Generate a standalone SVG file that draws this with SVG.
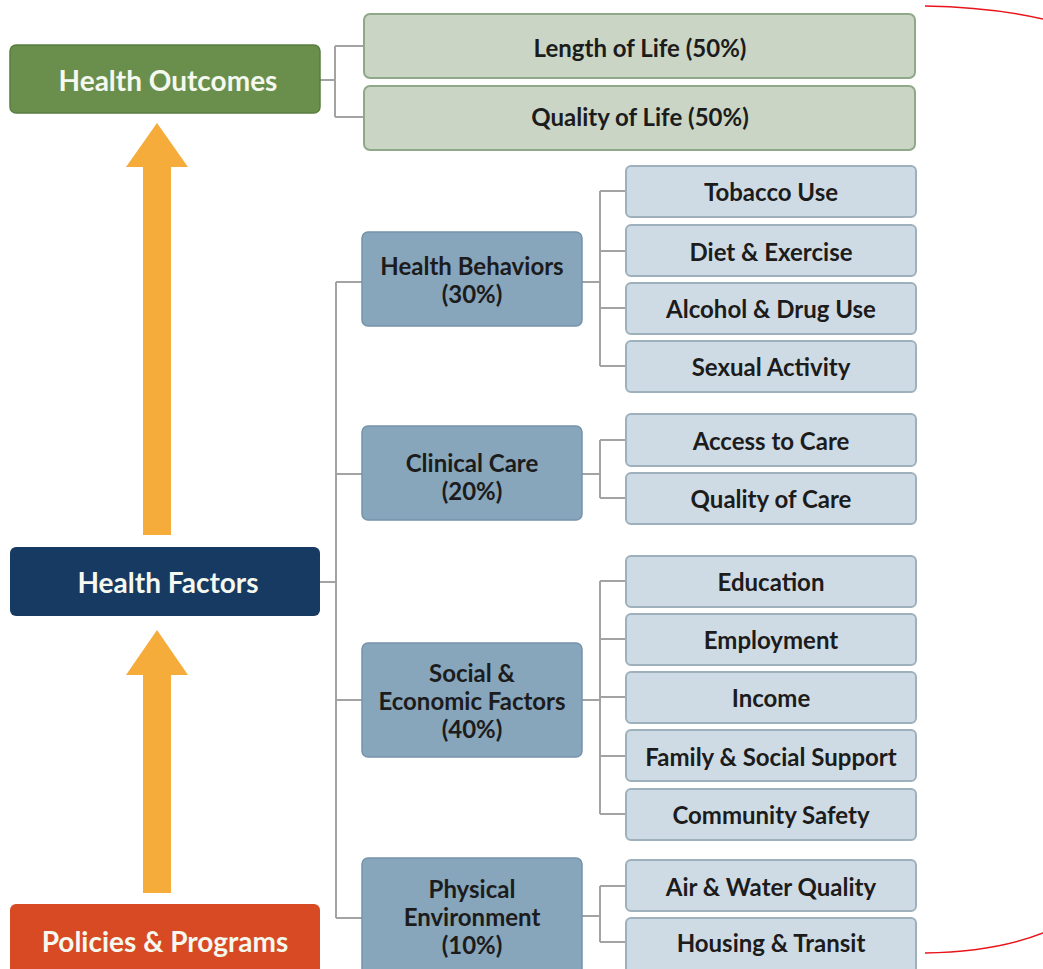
<svg xmlns="http://www.w3.org/2000/svg" width="1043" height="969" viewBox="0 0 1043 969">
<style>
text{font-family:Lato,"Noto Sans","Liberation Sans",sans-serif;font-weight:700;text-anchor:middle;dominant-baseline:central}
.main{font-size:28px;fill:#f4f8ee}
.outc{fill:#cad5c5;stroke:#8fa88a;stroke-width:2}
.cat{fill:#87a5bb;stroke:#7593aa;stroke-width:1.5}
.sub{fill:#cfdbe4;stroke:#9fb0bd;stroke-width:2}
.t21{font-size:24px;fill:#1c1c1c}
.t22{font-size:24px;fill:#1c1c1c}
.conn{fill:none;stroke:#a3a3a3;stroke-width:2}
.arrow{fill:#f5ac3a}
.red{fill:none;stroke:#e8141a;stroke-width:1.5}
</style>
<rect width="1043" height="969" fill="#ffffff"/>
<g id="connectors">
<path class="conn" d="M320,80 H335 M335,46 V117 M335,46 H364 M335,117 H364"/>
<path class="conn" d="M320,582 H336 M336,282 V918 M336,282 H362 M336,474 H362 M336,700 H362 M336,918 H362"/>
<path class="conn" d="M582,282 H600 M600,191 V366 M600,191 H626 M600,251 H626 M600,308 H626 M600,366 H626"/>
<path class="conn" d="M582,474 H600 M600,440 V498 M600,440 H626 M600,498 H626"/>
<path class="conn" d="M582,700 H600 M600,581 V814 M600,581 H626 M600,639 H626 M600,697 H626 M600,756 H626 M600,814 H626"/>
<path class="conn" d="M582,916 H600 M600,886 V942 M600,886 H626 M600,942 H626"/>
</g>
<g id="arrows">
<polygon class="arrow" points="157,123 188,167 171,167 171,535 143,535 143,167 126,167"/>
<polygon class="arrow" points="157,630 188,675 171,675 171,893 143,893 143,675 126,675"/>
</g>
<g id="health-outcomes"><rect x="10" y="45" width="310" height="68" rx="6" fill="#6a8f4c" stroke="#5a7d40" stroke-width="1.5"/><text class="main" x="168" y="80">Health Outcomes</text></g>
<g id="health-factors"><rect x="10" y="547" width="310" height="69" rx="6" fill="#173a63"/><text class="main" x="168" y="582">Health Factors</text></g>
<g id="policies-programs"><rect x="10" y="904" width="310" height="75" rx="6" fill="#d84a23"/><text class="main" x="165" y="941">Policies &amp; Programs</text></g>
<g id="length-of-life"><rect class="outc" x="364" y="14" width="551" height="64" rx="6"/><text class="t21" x="640" y="47">Length of Life (50%)</text></g>
<g id="quality-of-life"><rect class="outc" x="364" y="86" width="551" height="64" rx="6"/><text class="t21" x="640" y="116">Quality of Life (50%)</text></g>
<g id="health-behaviors"><rect class="cat" x="362" y="232" width="220" height="94" rx="6"/><text class="t21" x="472" y="265">Health Behaviors</text><text class="t21" x="472" y="293">(30%)</text></g>
<g id="clinical-care"><rect class="cat" x="362" y="426" width="220" height="94" rx="6"/><text class="t21" x="472" y="462">Clinical Care</text><text class="t21" x="472" y="490">(20%)</text></g>
<g id="social-economic"><rect class="cat" x="362" y="643" width="220" height="114" rx="6"/><text class="t21" x="472" y="672">Social &amp;</text><text class="t21" x="472" y="700">Economic Factors</text><text class="t21" x="472" y="728">(40%)</text></g>
<g id="physical-environment"><rect class="cat" x="362" y="858" width="220" height="121" rx="6"/><text class="t21" x="472" y="888">Physical</text><text class="t21" x="472" y="916">Environment</text><text class="t21" x="472" y="944">(10%)</text></g>
<g id="tobacco-use"><rect class="sub" x="626" y="166" width="290" height="51" rx="5"/><text class="t22" x="771" y="191">Tobacco Use</text></g>
<g id="diet-exercise"><rect class="sub" x="626" y="225" width="290" height="51" rx="5"/><text class="t22" x="771" y="251">Diet &amp; Exercise</text></g>
<g id="alcohol-drug"><rect class="sub" x="626" y="283" width="290" height="51" rx="5"/><text class="t22" x="771" y="308">Alcohol &amp; Drug Use</text></g>
<g id="sexual-activity"><rect class="sub" x="626" y="341" width="290" height="51" rx="5"/><text class="t22" x="771" y="366">Sexual Activity</text></g>
<g id="access-to-care"><rect class="sub" x="626" y="414" width="290" height="52" rx="5"/><text class="t22" x="771" y="440">Access to Care</text></g>
<g id="quality-of-care"><rect class="sub" x="626" y="473" width="290" height="51" rx="5"/><text class="t22" x="771" y="498">Quality of Care</text></g>
<g id="education"><rect class="sub" x="626" y="556" width="290" height="51" rx="5"/><text class="t22" x="771" y="581">Education</text></g>
<g id="employment"><rect class="sub" x="626" y="614" width="290" height="51" rx="5"/><text class="t22" x="771" y="639">Employment</text></g>
<g id="income"><rect class="sub" x="626" y="672" width="290" height="51" rx="5"/><text class="t22" x="771" y="697">Income</text></g>
<g id="family-social"><rect class="sub" x="626" y="730" width="290" height="51" rx="5"/><text class="t22" x="771" y="756">Family &amp; Social Support</text></g>
<g id="community-safety"><rect class="sub" x="626" y="789" width="290" height="51" rx="5"/><text class="t22" x="771" y="814">Community Safety</text></g>
<g id="air-water"><rect class="sub" x="626" y="860" width="290" height="51" rx="5"/><text class="t22" x="771" y="886">Air &amp; Water Quality</text></g>
<g id="housing-transit"><rect class="sub" x="626" y="918" width="290" height="60" rx="5"/><text class="t22" x="771" y="942">Housing &amp; Transit</text></g>
<g id="red-marks">
<path class="red" d="M925,6 Q990,7 1043,19"/>
<path class="red" d="M925,953 Q995,952 1043,933"/>
</g>
</svg>
